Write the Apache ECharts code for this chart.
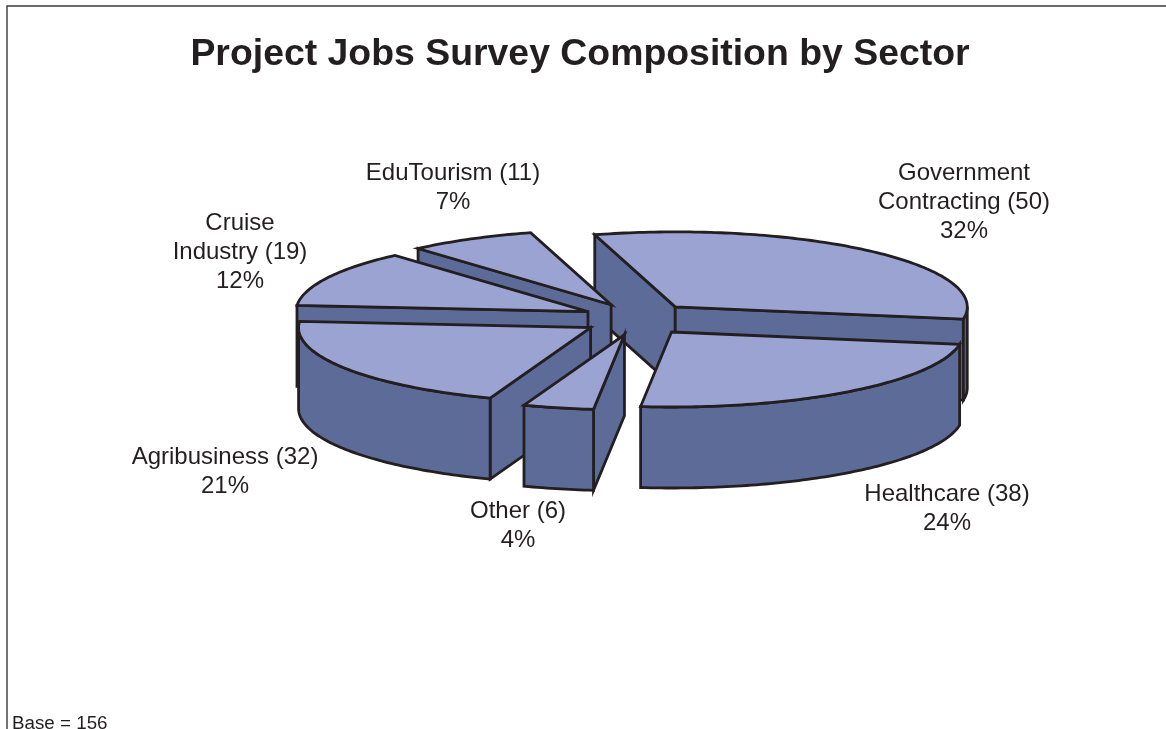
<!DOCTYPE html>
<html>
<head>
<meta charset="utf-8">
<title>Project Jobs Survey Composition by Sector</title>
<script src="https://cdn.jsdelivr.net/npm/echarts@6/dist/echarts.min.js"></script>
<style>
  html, body { margin: 0; padding: 0; background: #ffffff; }
  #chart { width: 1166px; height: 729px; }
</style>
</head>
<body>
<div id="chart"></div>
<script>
// Survey responses per sector, clockwise from the top of the pie.
const categories = ['Government\nContracting', 'Healthcare', 'Other', 'Agribusiness', 'Cruise\nIndustry', 'EduTourism'];
const respondents = [50, 38, 6, 32, 19, 11];
const chartTitle = 'Project Jobs Survey Composition by Sector';

// Back-to-front drawing sequence of the exploded slices (indexes into categories).
const paintOrder = [0, 5, 4, 3, 1, 2];

// Centre of each sector label block.
const labelCentres = [[964, 202], [947, 509], [518, 526], [225, 472], [240, 252], [453, 188]];

// Projection of the tilted pie.
const CX = 638, CY = 319, RX = 292, RY = 75, DEPTH = 81;
const EXPLODE = 56, EXPLODE_TILT = 0.29;
const START_DEG = 106;
// Apparent shift (degrees) of each slice boundary caused by the view's perspective.
const boundaryShift = [0, 0, 1, 0.8, 0, 0, 0];

const INK = '#231f20', TOP = '#9ba3d2', SIDE = '#5c6b98';
const total = respondents.reduce((a, b) => a + b, 0);
const rad = d => d * Math.PI / 180;

// Slice boundaries in degrees, running clockwise, taken from the respondent counts.
const trueEdges = [START_DEG];
respondents.forEach((v, i) => trueEdges.push(trueEdges[i] - v / total * 360));

function sliceGeometry(i) {
  const mid = rad((trueEdges[i] + trueEdges[i + 1]) / 2);
  const ax = CX + EXPLODE * Math.cos(mid);
  const ay = CY - EXPLODE * EXPLODE_TILT * Math.sin(mid);
  const from = trueEdges[i] + boundaryShift[i];
  const to = trueEdges[i + 1] + boundaryShift[i + 1];
  const rim = d => [ax + RX * Math.cos(rad(d)), ay - RY * Math.sin(rad(d))];
  const arc = (a, b) => {
    const n = Math.max(2, Math.ceil(Math.abs(a - b)));
    const pts = [];
    for (let k = 0; k <= n; k++) pts.push(rim(a + (b - a) * k / n));
    return pts;
  };
  return { apex: [ax, ay], from, to, rim, arc };
}

const drop = p => [p[0], p[1] + DEPTH];

function face(points, fill, z2) {
  return {
    type: 'polygon',
    z2,
    shape: { points },
    style: { fill, stroke: INK, lineWidth: 2.8, lineJoin: 'miter', miterLimit: 6 }
  };
}

// Builds one slice: its visible cut faces, the front part of the rim wall, and the top.
function renderSlice(params, api) {
  const i = api.value(1);
  const rank = paintOrder.indexOf(i) * 10 + 1;
  const g = sliceGeometry(i);
  const children = [];
  const first = g.rim(g.from), last = g.rim(g.to);
  if (first[0] < g.apex[0]) {
    children.push(face([g.apex, first, drop(first), drop(g.apex)], SIDE, rank));
  }
  if (last[0] > g.apex[0]) {
    children.push(face([last, g.apex, drop(g.apex), drop(last)], SIDE, rank));
  }
  // The rim faces the viewer only on the lower half of the ellipse.
  const wallStart = Math.min(g.from, 0), wallEnd = Math.max(g.to, -180);
  if (wallStart > wallEnd) {
    const upper = g.arc(wallStart, wallEnd);
    const lower = upper.map(drop).reverse();
    children.push(face(upper.concat(lower), SIDE, rank + 1));
  }
  children.push(face([g.apex].concat(g.arc(g.from, g.to)), TOP, rank + 2));
  return { type: 'group', children };
}

function renderLabel(params, api) {
  const i = api.value(1);
  const pct = Math.round(api.value(0) / total * 100);
  const name = categories[i];
  return {
    type: 'text',
    z2: 200,
    style: {
      text: name + ' (' + api.value(0) + ')\n' + pct + '%',
      x: labelCentres[i][0],
      y: labelCentres[i][1],
      align: 'center',
      verticalAlign: 'middle',
      fill: INK,
      font: '24px "Liberation Sans", Arial, sans-serif',
      lineHeight: 29
    }
  };
}

const rows = respondents.map((v, i) => [v, i]);

const chart = echarts.init(document.getElementById('chart'), null, { renderer: 'canvas' });
chart.setOption({
  animation: false,
  backgroundColor: '#ffffff',
  title: {
    text: chartTitle,
    left: 575,
    top: 31,
    textAlign: 'center',
    textStyle: { color: INK, fontFamily: 'Liberation Sans', fontSize: 37.4, fontWeight: 'bold' }
  },
  graphic: [
    { type: 'polyline', silent: true, shape: { points: [[7, 729], [7, 6], [1166, 6]] }, style: { stroke: '#3a3a3a', lineWidth: 1.4, fill: null } },
    { type: 'text', silent: true, style: { text: 'Base = ' + total, x: 12, y: 724, verticalAlign: 'middle', fill: INK, font: '18.8px "Liberation Sans", Arial, sans-serif' } }
  ],
  series: [
    { type: 'custom', coordinateSystem: 'none', silent: true, data: rows, renderItem: renderSlice },
    { type: 'custom', coordinateSystem: 'none', silent: true, z: 5, data: rows, renderItem: renderLabel }
  ]
});
</script>
</body>
</html>
